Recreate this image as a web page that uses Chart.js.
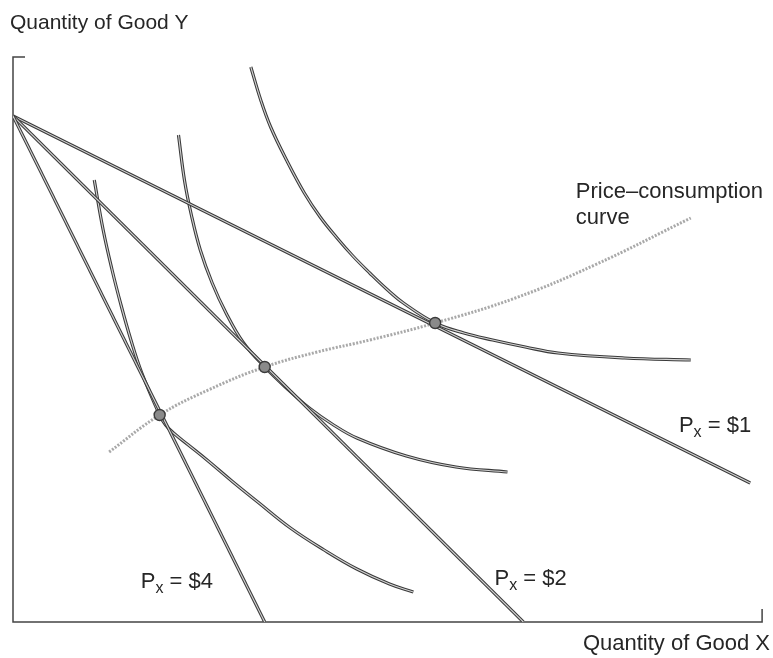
<!DOCTYPE html>
<html>
<head>
<meta charset="utf-8">
<title>Price-consumption curve</title>
<script src="https://cdn.jsdelivr.net/npm/chart.js@4.4.1/dist/chart.umd.min.js"></script>
<style>
  html, body { margin: 0; padding: 0; background: #fff; }
  #wrap { width: 773px; height: 658px; position: relative; }
</style>
</head>
<body>
<div id="wrap"><canvas id="pcc"></canvas></div>
<script>
/* === DADOS (unidades de X e Y lidas do grafico) === */
// retas orcamentais: todas partem do mesmo intercepto em Y
const budgetPx4 = [{x: 0, y: 506}, {x: 254, y: 0}];
const budgetPx2 = [{x: 0, y: 506}, {x: 515, y: 0}];
const budgetPx1 = [{x: 0, y: 506}, {x: 744, y: 139}];

// curvas de indiferenca
const icLow = [
  {x: 82, y: 442}, {x: 91, y: 392}, {x: 100, y: 352}, {x: 109, y: 317},
  {x: 119, y: 282}, {x: 130, y: 249}, {x: 148, y: 207}, {x: 154, y: 197},
  {x: 162, y: 189}, {x: 177, y: 177}, {x: 197, y: 161}, {x: 222, y: 140},
  {x: 247, y: 120}, {x: 280, y: 94}, {x: 314, y: 72}, {x: 347, y: 53},
  {x: 380, y: 38}, {x: 404, y: 30}
];
const icMid = [
  {x: 167, y: 487}, {x: 173, y: 442}, {x: 180, y: 407}, {x: 189, y: 372},
  {x: 201, y: 339}, {x: 215, y: 309}, {x: 232, y: 280}, {x: 254, y: 255},
  {x: 277, y: 233}, {x: 299, y: 214}, {x: 322, y: 198}, {x: 347, y: 184},
  {x: 397, y: 166}, {x: 447, y: 155}, {x: 499, y: 150}
];
const icHigh = [
  {x: 240, y: 555}, {x: 250, y: 522}, {x: 260, y: 495}, {x: 276, y: 462},
  {x: 294, y: 429}, {x: 310, y: 405}, {x: 327, y: 384}, {x: 343, y: 366},
  {x: 360, y: 349}, {x: 377, y: 333}, {x: 394, y: 319}, {x: 426, y: 299},
  {x: 455, y: 289}, {x: 484, y: 282}, {x: 517, y: 275}, {x: 550, y: 269},
  {x: 617, y: 264}, {x: 684, y: 262}
];

// curva preco-consumo e pontos de equilibrio
const pccCurve = [
  {x: 97, y: 170}, {x: 148, y: 207}, {x: 197, y: 232}, {x: 254, y: 255},
  {x: 307, y: 270}, {x: 360, y: 282}, {x: 426, y: 299}, {x: 507, y: 324},
  {x: 587, y: 357}, {x: 684, y: 404}
];
const optima = [{x: 148, y: 207}, {x: 254, y: 255}, {x: 426, y: 299}];

// textos
const axisTitleY = "Quantity of Good Y";
const axisTitleX = "Quantity of Good X";
const pccLabel = ["Price\u2013consumption", "curve"];
const priceLabels = [
  {price: "$4", x: 129, y: 34},
  {price: "$2", x: 486, y: 37},
  {price: "$1", x: 672, y: 190}
];

/* === ESTILO === */
const INK = "#3a3a3a";
const INNER = "#d4d4d4";
const FONT = "22px 'Liberation Sans', Arial, Helvetica, sans-serif";
const FONT_SUB = "16px 'Liberation Sans', Arial, Helvetica, sans-serif";

function curve(data, smooth){
  // linha clara por cima do traco escuro (efeito de linha dupla do original)
  const base = {data, showLine: true, pointRadius: 0, fill: false,
    tension: smooth ? 0.4 : 0};
  return [
    {...base, borderColor: INNER, borderWidth: 1.1},
    {...base, borderColor: INK, borderWidth: 3.2}
  ];
}

const datasets = [
  {
    data: optima,
    showLine: false,
    pointRadius: 5.5,
    pointBackgroundColor: "#8a8a8a",
    pointBorderColor: "#3a3a3a",
    pointBorderWidth: 1.4
  },
  ...curve(budgetPx4, false),
  ...curve(budgetPx2, false),
  ...curve(budgetPx1, false),
  ...curve(icLow, true),
  ...curve(icMid, true),
  ...curve(icHigh, true),
  {
    data: pccCurve,
    showLine: true,
    borderColor: "#a9a9a9",
    borderWidth: 3,
    borderDash: [2, 1.5],
    pointRadius: 0,
    tension: 0.4
  }
];

/* === EIXOS E TEXTOS === */
const decor = {
  id: 'decor',
  beforeDatasetsDraw(chart){
    const {ctx, chartArea: a} = chart;
    ctx.save();
    ctx.strokeStyle = "#444";
    ctx.lineWidth = 1.5;
    ctx.beginPath();
    ctx.moveTo(a.left + 12, a.top);
    ctx.lineTo(a.left, a.top);
    ctx.lineTo(a.left, a.bottom);
    ctx.lineTo(a.right - 4, a.bottom);
    ctx.lineTo(a.right - 4, a.bottom - 13);
    ctx.stroke();
    ctx.restore();
  },
  afterDatasetsDraw(chart){
    const {ctx} = chart;
    const sx = chart.scales.x, sy = chart.scales.y;
    ctx.save();
    ctx.fillStyle = "#262626";
    ctx.textBaseline = "alphabetic";

    ctx.textAlign = "left";
    ctx.font = "21px 'Liberation Sans', Arial, Helvetica, sans-serif";
    ctx.fillText(axisTitleY, 10, 29);
    ctx.font = FONT;
    ctx.textAlign = "right";
    ctx.fillText(axisTitleX, 770, 650);

    ctx.textAlign = "left";
    ctx.fillText(pccLabel[0], sx.getPixelForValue(568), sy.getPixelForValue(424));
    ctx.fillText(pccLabel[1], sx.getPixelForValue(568), sy.getPixelForValue(398));

    priceLabels.forEach(l => {
      let px = sx.getPixelForValue(l.x);
      const py = sy.getPixelForValue(l.y);
      ctx.font = FONT;
      ctx.fillText("P", px, py);
      px += ctx.measureText("P").width;
      ctx.font = FONT_SUB;
      ctx.fillText("x", px, py + 5);
      px += ctx.measureText("x").width;
      ctx.font = FONT;
      ctx.fillText(" = " + l.price, px, py);
    });
    ctx.restore();
  }
};

new Chart(document.getElementById("pcc"), {
  type: 'scatter',
  data: {datasets},
  options: {
    responsive: true,
    maintainAspectRatio: false,
    animation: false,
    layout: {padding: {left: 13, top: 57, right: 0, bottom: 36}},
    plugins: {legend: {display: false}, tooltip: {enabled: false}},
    elements: {line: {borderCapStyle: 'butt', borderJoinStyle: 'round'}},
    scales: {
      x: {type: 'linear', min: 0, max: 760, display: false},
      y: {type: 'linear', min: 0, max: 565, display: false}
    }
  },
  plugins: [decor]
});
</script>
</body>
</html>
